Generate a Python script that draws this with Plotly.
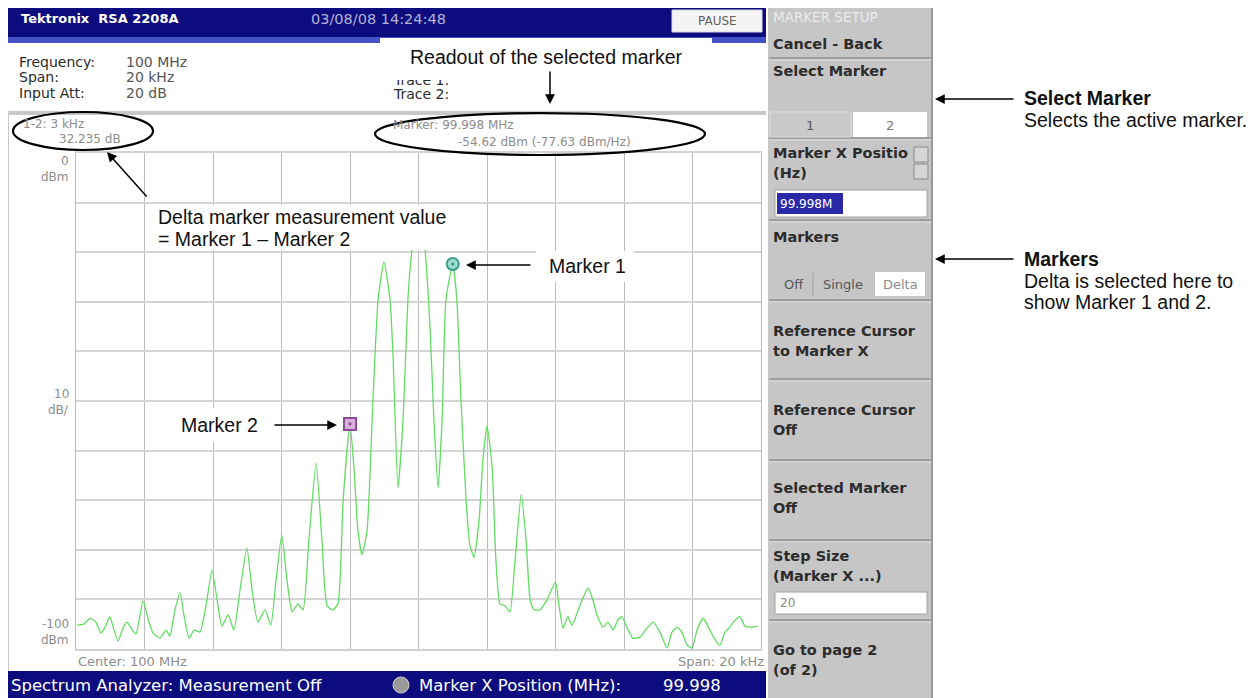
import plotly.graph_objects as go

# ---------------- data ----------------
center_mhz = 100.0
span_khz = 20.0
ref_level_dbm = 0.0
bottom_level_dbm = -100.0
db_per_div = 10.0

freq_offset_khz = [
    -9.97, -9.77, -9.59, -9.42, -9.27, -9.15, -9.01, -8.89, -8.77, -8.63,
    -8.51, -8.39, -8.25, -8.04, -7.87, -7.75, -7.55, -7.37, -7.26, -7.11,
    -6.96, -6.85, -6.70, -6.55, -6.38, -6.20, -6.03, -5.88, -5.74, -5.56,
    -5.39, -5.21, -5.01, -4.86, -4.69, -4.48, -4.31, -4.16, -3.99, -3.84,
    -3.69, -3.52, -3.37, -3.20, -2.99, -2.82, -2.67, -2.50, -2.35, -2.20,
    -2.00, -1.88, -1.77, -1.65, -1.50, -1.33, -1.18, -1.01, -0.83, -0.74,
    -0.60, -0.45, -0.31, -0.19, 0.00, 0.19, 0.34, 0.45, 0.57, 0.69,
    0.80, 1.00, 1.12, 1.24, 1.39, 1.50, 1.62, 1.77, 1.88, 2.00,
    2.15, 2.26, 2.38, 2.53, 2.67, 2.82, 3.00, 3.14, 3.26, 3.37,
    3.55, 3.75, 4.00, 4.10, 4.22, 4.36, 4.48, 4.72, 4.95, 5.09,
    5.21, 5.39, 5.53, 5.68, 5.82, 5.94, 6.12, 6.26, 6.47, 6.67,
    6.85, 7.05, 7.26, 7.40, 7.55, 7.69, 7.84, 7.99, 8.13, 8.31,
    8.48, 8.63, 8.80, 8.95, 9.09, 9.24, 9.39, 9.53, 9.68, 9.91,
]
level_dbm = [
    -95.2, -95.0, -93.8, -94.6, -96.8, -95.6, -93.5, -96.2, -98.4, -95.8,
    -94.6, -95.8, -97.0, -90.3, -94.6, -96.8, -97.8, -96.2, -97.4, -92.1,
    -88.7, -93.1, -97.8, -96.2, -96.6, -91.1, -84.1, -90.1, -95.4, -93.1,
    -96.2, -88.1, -79.6, -88.1, -94.6, -92.1, -95.2, -86.1, -77.0, -86.1,
    -92.5, -90.9, -92.1, -78.0, -62.5, -78.0, -91.3, -92.1, -90.9, -70.0,
    -54.62, -63.9, -76.0, -81.0, -76.0, -49.8, -29.6, -22.0, -29.6, -41.7,
    -67.5, -53.8, -29.6, -19.6, -12.0, -19.6, -35.7, -53.8, -67.5, -53.8,
    -29.6, -22.385, -29.6, -49.8, -70.0, -79.0, -81.5, -74.0, -61.9, -55.0,
    -63.3, -82.1, -90.9, -91.3, -92.5, -82.1, -68.8, -78.0, -90.1, -92.1,
    -92.1, -90.1, -86.5, -91.1, -95.8, -93.5, -95.2, -91.1, -87.7, -90.1,
    -93.1, -95.6, -94.6, -96.2, -94.2, -93.5, -96.2, -97.8, -97.6, -95.8,
    -94.6, -96.6, -99.8, -96.6, -95.6, -96.6, -99.2, -99.8, -96.2, -93.8,
    -95.8, -97.8, -99.2, -96.6, -95.6, -94.2, -93.5, -95.4, -95.6, -95.4,
]

marker1_offset_khz = 1.0
marker1_dbm = -22.385
marker2_offset_khz = -2.0
marker2_dbm = -54.62

freq_mhz = [center_mhz + f / 1000.0 for f in freq_offset_khz]

# ---------------- helpers (layout only) ----------------
# the page body has an 8 px margin, so the figure is drawn 8 px in from the top-left
OFF = 8
W, H = 1256 - OFF, 698 - OFF
def X(p): return (p - OFF) / W
def Y(p): return 1 - (p - OFF) / H

NAVY = "#0c0c7e"
PANEL = "#c6c6c6"
UI = "DejaVu Sans"
CALL = "Liberation Sans, Arial, sans-serif"

shapes = []
annotations = []

def rect(x0, y0, x1, y1, fill, line=None, lw=0, layer="below"):
    shapes.append(dict(type="rect", xref="paper", yref="paper",
                       x0=X(x0), x1=X(x1), y0=Y(y1), y1=Y(y0),
                       fillcolor=fill, line=dict(color=line or fill, width=lw), layer=layer))

def hline(x0, x1, y, color, w=1, layer="below"):
    shapes.append(dict(type="line", xref="paper", yref="paper",
                       x0=X(x0), x1=X(x1), y0=Y(y), y1=Y(y),
                       line=dict(color=color, width=w), layer=layer))

def vline(x, y0, y1, color, w=1, layer="below"):
    shapes.append(dict(type="line", xref="paper", yref="paper",
                       x0=X(x), x1=X(x), y0=Y(y0), y1=Y(y1),
                       line=dict(color=color, width=w), layer=layer))

def ellipse(x0, y0, x1, y1):
    shapes.append(dict(type="circle", xref="paper", yref="paper",
                       x0=X(x0), x1=X(x1), y0=Y(y1), y1=Y(y0),
                       line=dict(color="black", width=2.2), layer="above"))

def text(x, y, s, size=13, color="#333333", xa="left", ya="middle", family=UI, weight="normal"):
    annotations.append(dict(x=X(x), y=Y(y), xref="paper", yref="paper", text=s,
                            showarrow=False, xanchor=xa, yanchor=ya, borderpad=0,
                            font=dict(family=family, size=size, color=color, weight=weight)))

def cover(x0, y0, x1, y1):
    annotations.append(dict(x=X(x0), y=Y(y0), xref="paper", yref="paper", text="&#160;",
                            showarrow=False, xanchor="left", yanchor="top",
                            width=x1 - x0, height=y1 - y0, bgcolor="white",
                            borderpad=0, borderwidth=0))

def arrow(tx, ty, fx, fy):
    annotations.append(dict(x=X(tx), y=Y(ty), xref="paper", yref="paper",
                            ax=fx - tx, ay=fy - ty, axref="pixel", ayref="pixel",
                            text="", showarrow=True, arrowhead=2, arrowsize=1.3,
                            arrowwidth=1.5, arrowcolor="black"))

# ---------------- instrument window ----------------
rect(6, 8, 766, 37, NAVY)
rect(6, 37, 766, 43, "#4252c4")
rect(672, 10, 762, 32, "#f4f4f4", "#d8d8e8", 1)
rect(6, 111, 766, 115, "#c8c8c8")
rect(6, 111, 9, 672, "#c8c8c8")
rect(6, 671, 766, 698, NAVY)
shapes.append(dict(type="circle", xref="paper", yref="paper", x0=X(393), x1=X(409),
                   y0=Y(693), y1=Y(677), fillcolor="#9a9a9a",
                   line=dict(color="#d0d0d0", width=1), layer="below"))

# right soft-key panel
rect(768, 8, 933, 698, PANEL)
vline(932, 8, 698, "#9a9a9a", 2)
for sy in [58, 138, 220, 300, 379, 460, 540, 620]:
    hline(769, 931, sy, "#9e9e9e", 2)
    hline(769, 931, sy + 2, "#dcdcdc", 1)
rect(770, 112, 851, 137, "#c9c9c9", "#dedede", 1)
rect(853, 112, 927, 137, "#ffffff")
rect(914, 147, 928, 162, "#d6d6d6", "#8a8a8a", 1)
rect(914, 164, 928, 179, "#d6d6d6", "#8a8a8a", 1)
rect(775, 190, 927, 217, "#ffffff", "#a0a0a0", 1)
rect(777, 193, 843, 214, "#2a2aa8")
vline(813, 273, 296, "#a4a4a4", 1)
rect(875, 272, 925, 296, "#ffffff")
rect(775, 592, 927, 614, "#ffffff", "#a0a0a0", 1)

# ---------------- texts: instrument ----------------
text(20, 19, "Tektronix  RSA 2208A", 13, "#ffffff", weight="bold")
text(310, 19, "03/08/08 14:24:48", 14.5, "#b4b4d4")
text(717, 21, "PAUSE", 12, "#606060", xa="center")

text(18, 62, "Frequency:", 14, "#2a2a2a")
text(125, 62, "100 MHz", 14, "#555555")
text(18, 77, "Span:", 14, "#2a2a2a")
text(125, 77, "20 kHz", 14, "#555555")
text(18, 93, "Input Att:", 14, "#2a2a2a")
text(125, 93, "20 dB", 14, "#555555")
text(392, 80, "Trace 1:", 14, "#2a2a2a")
text(392, 94, "Trace 2:", 14, "#2a2a2a")

text(22, 124, "1-2: 3 kHz", 12, "#8c8c8c")
text(58, 139, "32.235 dB", 12, "#8c8c8c")
text(392, 125, "Marker: 99.998 MHz", 12, "#8c8c8c")
text(457, 142, "-54.62 dBm (-77.63 dBm/Hz)", 12, "#8c8c8c")

text(70, 161, "0", 12, "#8c8c8c", xa="right")
text(70, 177, "dBm", 12, "#8c8c8c", xa="right")
text(70, 394, "10", 12, "#8c8c8c", xa="right")
text(70, 410, "dB/", 12, "#8c8c8c", xa="right")
text(70, 624, "-100", 12, "#8c8c8c", xa="right")
text(70, 640, "dBm", 12, "#8c8c8c", xa="right")
text(77, 661, "Center: 100 MHz", 13, "#8c8c8c")
text(765, 661, "Span: 20 kHz", 13, "#8c8c8c", xa="right")

text(10, 685, "Spectrum Analyzer: Measurement Off", 16.5, "#ffffff")
text(418, 685, "Marker X Position (MHz):", 16.5, "#ffffff")
text(662, 685, "99.998", 16.5, "#ffffff")

# panel labels
PT = "#2c2c2c"
PS = 14.5
text(772, 17, "MARKER SETUP", 13.5, "#ececec")
text(772, 44, "Cancel - Back", PS, PT, weight="bold")
text(772, 71, "Select Marker", PS, PT, weight="bold")
text(810, 125, "1", 13, "#555555", xa="center")
text(890, 125, "2", 13, "#777777", xa="center")
text(772, 153, "Marker X Positio", PS, PT, weight="bold")
text(772, 173, "(Hz)", PS, PT, weight="bold")
text(779, 204, "99.998M", 12, "#ffffff")
text(772, 237, "Markers", PS, PT, weight="bold")
text(794, 284, "Off", 13, "#555555", xa="center")
text(843, 284, "Single", 13, "#555555", xa="center")
text(900, 284, "Delta", 13, "#8a8a8a", xa="center")
text(772, 331, "Reference Cursor", PS, PT, weight="bold")
text(772, 351, "to Marker X", PS, PT, weight="bold")
text(772, 410, "Reference Cursor", PS, PT, weight="bold")
text(772, 430, "Off", PS, PT, weight="bold")
text(772, 488, "Selected Marker", PS, PT, weight="bold")
text(772, 508, "Off", PS, PT, weight="bold")
text(772, 556, "Step Size", PS, PT, weight="bold")
text(772, 576, "(Marker X ...)", PS, PT, weight="bold")
text(779, 603, "20", 12, "#8a8a8a")
text(772, 650, "Go to page 2", PS, PT, weight="bold")
text(772, 670, "(of 2)", PS, PT, weight="bold")

# ---------------- callouts ----------------
CS = 19.5
cover(380, 38, 712, 80)
text(546, 57, "Readout of the selected marker", CS, "#111111", xa="center", family=CALL)
arrow(550, 104, 550, 70)
ellipse(375, 113, 705, 155)
ellipse(13, 112, 153, 150)

cover(150, 205, 450, 250)
text(157, 217, "Delta marker measurement value", CS, "#111111", family=CALL)
text(157, 239, "= Marker 1 \u2013 Marker 2", CS, "#111111", family=CALL)
arrow(107, 152, 148, 198)

cover(536, 251, 634, 282)
text(548, 266, "Marker 1", CS, "#111111", family=CALL)
arrow(466, 265, 532, 265)

cover(176, 408, 268, 442)
text(180, 425, "Marker 2", CS, "#111111", family=CALL)
arrow(337, 425, 273, 425)

arrow(935, 99, 1015, 99)
text(1023, 98, "Select Marker", CS, "#111111", family=CALL, weight="bold")
text(1023, 120, "Selects the active marker.", CS, "#111111", family=CALL)
arrow(935, 259, 1015, 259)
text(1023, 259, "Markers", CS, "#111111", family=CALL, weight="bold")
text(1023, 281, "Delta is selected here to", CS, "#111111", family=CALL)
text(1023, 302, "show Marker 1 and 2.", CS, "#111111", family=CALL)

# ---------------- figure ----------------
fig = go.Figure()
fig.add_trace(go.Scatter(x=freq_mhz, y=level_dbm, mode="lines",
                         line=dict(color="#62dc62", width=1.3, shape="spline", smoothing=0.5),
                         hoverinfo="skip", showlegend=False))
fig.add_trace(go.Scatter(x=[center_mhz + marker2_offset_khz / 1000.0], y=[marker2_dbm],
                         mode="markers", showlegend=False, cliponaxis=False,
                         marker=dict(symbol="square-dot", size=12, color="#d8b0dc",
                                     line=dict(color="#8c4c94", width=2))))
fig.add_trace(go.Scatter(x=[center_mhz + marker1_offset_khz / 1000.0], y=[marker1_dbm],
                         mode="markers", showlegend=False, cliponaxis=False,
                         marker=dict(symbol="circle-dot", size=12, color="#9cdccc",
                                     line=dict(color="#3c9c8c", width=2))))

half_span_mhz = span_khz / 2000.0
fig.update_layout(
    width=W, height=H, autosize=False,
    margin=dict(l=0, r=0, t=0, b=0),
    paper_bgcolor="white", plot_bgcolor="rgba(0,0,0,0)",
    shapes=shapes, annotations=annotations,
    xaxis=dict(domain=[X(76), X(761)],
               range=[center_mhz - half_span_mhz, center_mhz + half_span_mhz],
               tick0=center_mhz - half_span_mhz, dtick=span_khz / 10 / 1000.0,
               showticklabels=False, ticks="", showgrid=True,
               gridcolor="#bcbcbc", gridwidth=1, zeroline=False,
               showline=True, linecolor="#d2d2d2", linewidth=2, mirror=True,
               fixedrange=True),
    yaxis=dict(domain=[Y(649), Y(153)],
               range=[bottom_level_dbm, ref_level_dbm], dtick=db_per_div,
               showticklabels=False, ticks="", showgrid=True,
               gridcolor="#d4d4d4", gridwidth=2, zeroline=False,
               showline=True, linecolor="#bcbcbc", linewidth=1, mirror=True,
               fixedrange=True),
)
fig.write_html("out.html")
